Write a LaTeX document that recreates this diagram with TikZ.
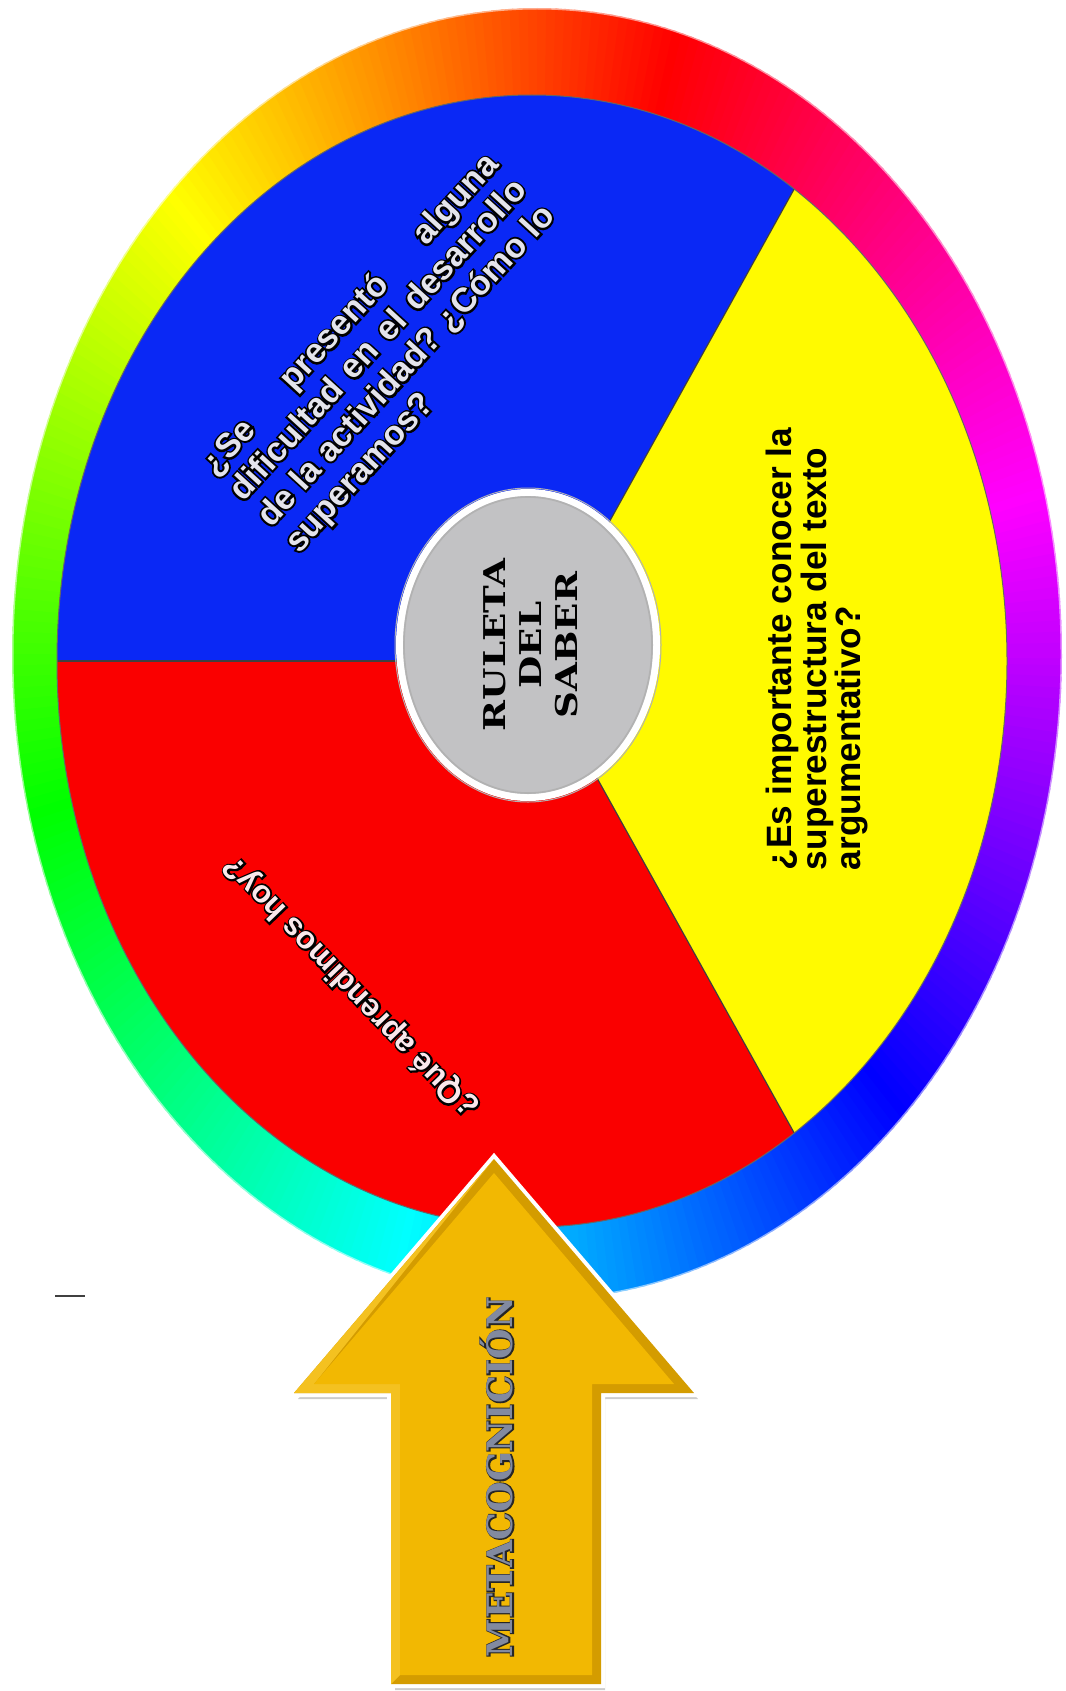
\documentclass[tikz,border=0pt]{standalone}
\usepackage{fontspec}
\setmainfont{Liberation Sans}
\newfontfamily\decoW{DejaVu Serif}[FakeStretch=1.24]
\newfontface\metaIn{DejaVu Serif Bold}
\newfontface\metaOut{DejaVu Serif Bold}[FakeBold=6]
\newfontface\qIn{Liberation Sans Bold}
\newfontface\qOut{Liberation Sans Bold}[FakeBold=11]
\usetikzlibrary{calc}
\definecolor{pieblue}{RGB}{10,40,245}
\definecolor{piered}{RGB}{250,0,0}
\definecolor{pieyellow}{RGB}{255,250,0}
\definecolor{hubgray}{RGB}{194,194,196}
\definecolor{goldout}{RGB}{212,156,0}
\definecolor{goldin}{RGB}{242,184,2}
\definecolor{metafill}{RGB}{130,138,160}
\definecolor{bluetext}{RGB}{228,228,236}
\definecolor{redtext}{RGB}{250,232,236}
\newcommand\bw[1]{\rlap{\qOut\color{black}#1}{\qIn #1}}
\newcommand\metaw[1]{\rlap{\metaOut\color{black!85}#1}{\metaIn #1}}
\tikzset{
  sepline/.style={draw=black!75, line width=0.6pt},
  pieedge/.style={draw=black!60, line width=0.5pt},
  qfont/.style={font=\fontsize{17}{19}\selectfont},
}
\begin{document}
\begin{tikzpicture}[x=0.5pt, y=-0.5pt]
\useasboundingbox (0,0) rectangle (1065,1691);
\fill[white] (0,0) rectangle (1065,1691);
% ---- colour ring
\coordinate (oc) at (537,654);
\foreach \c in {0,...,359}{
  \pgfmathsetmacro\hh{mod(645-\c,360)}
  \definecolor{ringc}{Hsb}{\hh,1,1}
  \fill[ringc] (oc) -- ++(\c:525 and 646) arc[start angle=\c, end angle=\c+1.4, x radius=525, y radius=646] -- cycle;
}
\draw[white, opacity=0.55, line width=1.5pt] (oc) ellipse[x radius=525, y radius=646];
% ---- pie
\coordinate (pc) at (532,661);
\fill[pieyellow] (pc) -- ++(-56.5:475 and 566) arc[start angle=-56.5, end angle=56.5, x radius=475, y radius=566] -- cycle;
\fill[pieblue] (pc) -- ++(-180:475 and 566) arc[start angle=-180, end angle=-56.5, x radius=475, y radius=566] -- cycle;
\fill[piered] (pc) -- ++(56.5:475 and 566) arc[start angle=56.5, end angle=180, x radius=475, y radius=566] -- cycle;
\draw[sepline] (pc) -- ++(-56.5:475 and 566);
\draw[sepline] (pc) -- ++(56.5:475 and 566);
\draw[sepline] (pc) -- ++(180:475 and 566);
\draw[pieedge] (pc) ellipse[x radius=475, y radius=566];
% ---- hub
\coordinate (cc) at (528,645);
\fill[white] (cc) ellipse[x radius=132, y radius=156];
\draw[black!30, line width=0.5pt] (cc) ellipse[x radius=133, y radius=157];
\fill[hubgray] (cc) ellipse[x radius=125, y radius=149];
\draw[black!30, line width=0.8pt] (cc) ellipse[x radius=124, y radius=148];
\node[rotate=90, align=center, font=\decoW\bfseries\fontsize{15}{18}\selectfont] (hubtitle) at (531,645) {RULETA\\DEL\\SABER};
% ---- questions
\node[rotate=47.5, align=left, qfont, text=bluetext, inner sep=0pt] (qblue) at (393,354) {%
\hbox to 211pt{\bw{¿Se}\hfill\bw{presentó}\hfill\bw{alguna}}\\
\hbox to 211pt{\bw{dificultad}\hfill\bw{en}\hfill\bw{el}\hfill\bw{desarrollo}}\\
\hbox to 211pt{\bw{de}\hfill\bw{la}\hfill\bw{actividad?}\hfill\bw{¿Cómo}\hfill\bw{lo}}\\
\bw{superamos?}};
\node[rotate=133.8, font=\fontsize{15.7}{18}\selectfont, text=redtext, inner sep=0pt] (qred) at (351,987) {\bw{¿Qué aprendimos hoy?}};
\node[rotate=90, align=left, font=\bfseries\fontsize{17.6}{16}\selectfont, inner sep=0pt] (qyellow) at (817,649) {¿Es importante conocer la\\superestructura del texto\\argumentativo?};
% ---- arrow
\coordinate (atip) at (494,1159);
\coordinate (ahr) at (694,1393);
\coordinate (asr) at (601,1393);
\coordinate (abr) at (601,1684);
\coordinate (abl) at (391,1684);
\coordinate (asl) at (391,1393);
\coordinate (ahl) at (294,1393);
\fill[black, opacity=0.2] ($(atip)+(4,6)$) -- ($(ahr)+(4,6)$) -- ($(asr)+(4,6)$) -- ($(abr)+(4,6)$) -- ($(abl)+(4,6)$) -- ($(asl)+(4,6)$) -- ($(ahl)+(4,6)$) -- cycle;
\draw[white, line width=4pt, line join=miter] (atip) -- (ahr) -- (asr) -- (abr) -- (abl) -- (asl) -- (ahl) -- cycle;
\fill[goldout] (atip) -- (ahr) -- (asr) -- (abr) -- (abl) -- (asl) -- (ahl) -- cycle;
\fill[goldin!88!white] (atip) -- (314,1384) -- (400,1384) -- (400,1675) -- (391,1684) -- (391,1393) -- (ahl) -- cycle;
\fill[goldin] (494,1173) -- (674,1384) -- (592,1384) -- (592,1675) -- (400,1675) -- (400,1384) -- (314,1384) -- cycle;
\node[rotate=90, font=\fontsize{17.5}{17}\selectfont, text=metafill, inner sep=0pt] (meta) at (497,1477) {\metaw{METACOGNICIÓN}};
% ---- small dash
\coordinate (dashl) at (55,1296);
\coordinate (dashr) at (85,1296);
\draw[black!75, line width=1pt] (dashl) -- (dashr);
\end{tikzpicture}
\end{document}
